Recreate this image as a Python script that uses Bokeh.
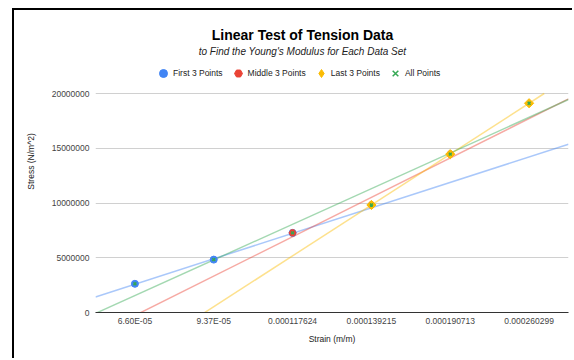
from bokeh.plotting import figure
from bokeh.models import Range1d, FixedTicker, Legend, LegendItem, NumeralTickFormatter, Label
from bokeh.embed import file_html
from bokeh.resources import INLINE
import numpy as np

# ---- data ----
strain_labels = ["6.60E-05", "9.37E-05", "0.000117624", "0.000139215", "0.000190713", "0.000260299"]
stress = [2620000, 4830000, 7270000, 9820000, 14460000, 19110000]
first_idx = [1, 2, 3]
middle_idx = [3, 4, 5]
last_idx = [4, 5, 6]
all_idx = [1, 2, 3, 4, 5, 6]
y_ticks = [0, 5000000, 10000000, 15000000, 20000000]

series_names = ["First 3 Points", "Middle 3 Points", "Last 3 Points", "All Points"]
series_idx = [first_idx, middle_idx, last_idx, all_idx]
series_colors = ["#4285F4", "#EA4335", "#FBBC04", "#34A853"]
series_markers = ["circle", "hex", "square", "x"]
legend_markers = ["circle", "hex", "diamond", "x"]
series_angles = [0, 0, np.pi / 4, 0]
series_sizes = [7, 7, 6.5, 4]

FONT = "Liberation Sans"

# ---- layout (page pixels) ----
L0, T0 = 14, 10                  # canvas origin inside the outer black frame
PLOT_L, PLOT_R = 95, 568         # chart area horizontal extent
Y0_PX, YMAX_PX = 312, 93         # pixel rows of 0 and of the top value tick
Y_MAX = y_ticks[-1]
X_MIN, X_MAX = 0.5, len(all_idx) + 0.5
# extend the frame to the canvas top so that titles and legend are inside it
Y_TOP = Y_MAX * (Y0_PX - T0) / (Y0_PX - YMAX_PX)


def px_x(px):
    return X_MIN + (px - PLOT_L) * (X_MAX - X_MIN) / (PLOT_R - PLOT_L)


def px_y(py):
    return (Y0_PX - py) * Y_MAX / (Y0_PX - YMAX_PX)


p = figure(width=574 - L0, height=360 - T0, x_range=Range1d(X_MIN, X_MAX), y_range=Range1d(0, Y_TOP),
           output_backend="svg", toolbar_location=None,
           min_border_left=PLOT_L - L0, min_border_right=574 - PLOT_R, min_border_top=0,
           min_border_bottom=360 - Y0_PX)
p.margin = (8, 0, 0, 12)
p.styles = {"border-left": "2px solid black", "border-top": "2px solid black"}
p.outline_line_color = None
p.background_fill_color = "white"
p.border_fill_color = "white"
p.xgrid.visible = False
p.ygrid.grid_line_color = "#d0d0d0"
p.ygrid.grid_line_width = 1

p.yaxis.ticker = FixedTicker(ticks=y_ticks)
p.yaxis.formatter = NumeralTickFormatter(format="0")
p.xaxis.ticker = FixedTicker(ticks=all_idx)
p.xaxis.major_label_overrides = {i: lab for i, lab in zip(all_idx, strain_labels)}

for ax in (p.xaxis[0], p.yaxis[0]):
    ax.major_tick_line_color = None
    ax.minor_tick_line_color = None
    ax.major_label_text_font = FONT
    ax.major_label_text_font_size = "8.5px"
    ax.major_label_text_color = "#444444"
    ax.axis_label_text_font = FONT
    ax.axis_label_text_font_size = "8.5px"
    ax.axis_label_text_font_style = "normal"
    ax.axis_label_text_color = "#222222"
p.yaxis.axis_line_color = None
p.xaxis.axis_line_color = "#333333"
p.xaxis.axis_line_width = 1
p.yaxis.major_label_standoff = 0
p.xaxis.major_label_standoff = -3
p.yaxis.axis_label = "Stress (N/m^2)"
p.xaxis.axis_label = "Strain (m/m)"
p.yaxis.axis_label_standoff = 13
p.xaxis.axis_label_standoff = 5

# trendlines (least-squares fits, clipped to the 0..Y_MAX band)
for idx, col in zip(series_idx, series_colors):
    vals = [stress[i - 1] for i in idx]
    m, b = np.polyfit(idx, vals, 1)
    x_hi = X_MAX
    if m * x_hi + b > Y_MAX:
        x_hi = (Y_MAX - b) / m
    xs = np.array([X_MIN, x_hi])
    p.line(xs, m * xs + b, line_color=col, line_alpha=0.45, line_width=1.5)

# points; when the legend symbol differs from the drawn marker, a hidden-under
# copy with the legend symbol is drawn first and used for the legend entry
legend_items = []
for name, idx, col, mk, lmk, ang, sz in zip(series_names, series_idx, series_colors, series_markers,
                                            legend_markers, series_angles, series_sizes):
    vals = [stress[i - 1] for i in idx]
    if mk == "x":
        r = p.scatter(idx, vals, marker=mk, size=sz, line_color=col, line_width=1.5)
        lr = r
    else:
        lr = None
        if lmk != mk:
            lr = p.scatter(idx, vals, marker=lmk, size=sz, fill_color=col, line_color=col)
        r = p.scatter(idx, vals, marker=mk, size=sz, angle=ang, fill_color=col, line_color=col)
        if lr is None:
            lr = r
    legend_items.append(LegendItem(label=name, renderers=[lr]))

legend = Legend(items=legend_items, location=(153 - PLOT_L, Y0_PX - 83), orientation="horizontal",
                padding=0, margin=0, spacing=5, label_standoff=0,
                glyph_width=20, glyph_height=20,
                label_text_font=FONT, label_text_font_size="8.5px", label_text_color="#222222",
                border_line_color=None, background_fill_alpha=0)
p.add_layout(legend, "center")

p.add_layout(Label(x=px_x(302), y=px_y(34), text="Linear Test of Tension Data",
                   text_align="center", text_baseline="middle", text_font=FONT,
                   text_font_size="14px", text_font_style="bold", text_color="#000000"))
p.add_layout(Label(x=px_x(302), y=px_y(51), text="to Find the Young's Modulus for Each Data Set",
                   text_align="center", text_baseline="middle", text_font=FONT,
                   text_font_size="10px", text_font_style="italic", text_color="#222222"))

open("out.html", "w").write(file_html(p, INLINE))
